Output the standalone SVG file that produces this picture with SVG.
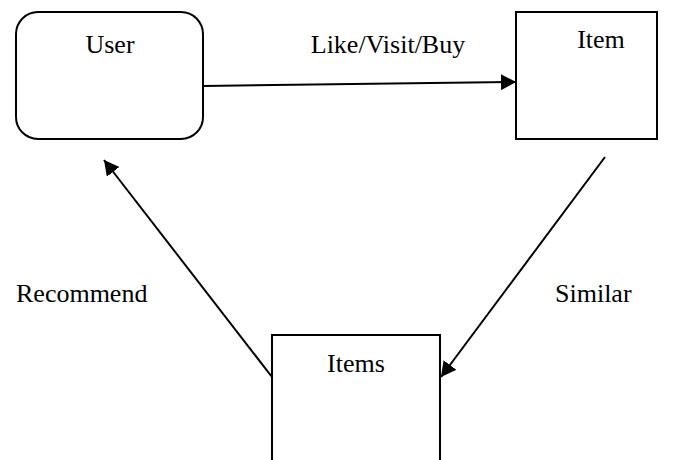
<svg xmlns="http://www.w3.org/2000/svg" width="676" height="460" viewBox="0 0 676 460">
  <style>
    .box { fill: #ffffff; stroke: #000000; stroke-width: 2; }
    .lbl { font-family: 'Liberation Serif', 'Times New Roman', serif; font-size: 26px; fill: #000000; }
    .edge { stroke: #000000; stroke-width: 2; fill: none; }
  </style>
  <defs>
    <!-- filled triangular arrowhead, tip on the line end -->
    <marker id="head" viewBox="0 0 15 16" refX="15" refY="8" markerWidth="15" markerHeight="16" markerUnits="userSpaceOnUse" orient="auto">
      <path d="M0,0 L15,8 L0,16 Z" fill="#000000"/>
    </marker>
  </defs>
  <rect width="676" height="460" fill="#ffffff"/>

  <g id="user">
    <rect class="box" x="16" y="12" width="187" height="127" rx="22" ry="22"/>
    <text class="lbl" x="110" y="53" text-anchor="middle">User</text>
  </g>

  <g id="item">
    <rect class="box" x="516" y="12" width="141" height="127"/>
    <text class="lbl" x="601" y="48" text-anchor="middle">Item</text>
  </g>

  <g id="items">
    <path class="box" d="M272,461 L272,335 L440,335 L440,461"/>
    <text class="lbl" x="356" y="372" text-anchor="middle">Items</text>
  </g>

  <g id="connectors">
    <line class="edge" x1="203" y1="86" x2="516" y2="82" marker-end="url(#head)"/>
    <line class="edge" x1="605" y1="157" x2="441" y2="377" marker-end="url(#head)"/>
    <line class="edge" x1="272" y1="377" x2="104" y2="160" marker-end="url(#head)"/>
    <text class="lbl" x="388" y="53" text-anchor="middle">Like/Visit/Buy</text>
    <text class="lbl" x="16" y="302">Recommend</text>
    <text class="lbl" x="555" y="302">Similar</text>
  </g>
</svg>
